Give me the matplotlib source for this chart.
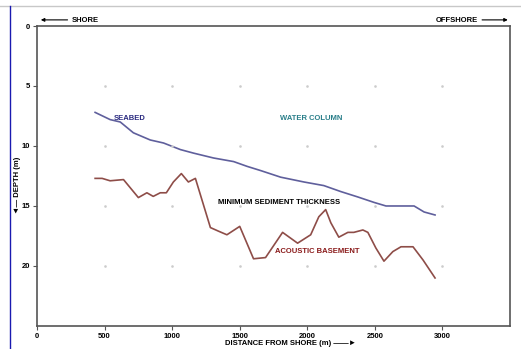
import numpy as np
import matplotlib.pyplot as plt
from matplotlib.lines import Line2D

# seabed profile (distance m, depth m)
seabed_x = [430, 541, 616, 713, 838, 936, 1061, 1160, 1306, 1455, 1555, 1655,
            1803, 1975, 2122, 2248, 2374, 2493, 2582, 2790, 2864, 2945]
seabed_d = [7.2, 7.8, 8.0, 8.9, 9.5, 9.75, 10.3, 10.6, 11.0, 11.3, 11.7, 12.05,
            12.6, 13.0, 13.3, 13.8, 14.25, 14.7, 15.0, 15.0, 15.5, 15.75]

# acoustic basement profile
base_x = [430, 482, 541, 640, 750, 813, 860, 912, 957, 1009, 1068, 1120, 1172,
          1283, 1343, 1405, 1500, 1602, 1691, 1817, 1928, 2025, 2085, 2136,
          2174, 2233, 2300, 2344, 2411, 2448, 2507, 2567, 2633, 2693, 2782,
          2856, 2945]
base_d = [12.7, 12.7, 12.9, 12.8, 14.3, 13.9, 14.2, 13.9, 13.9, 13.0, 12.3, 13.0,
          12.7, 16.8, 17.1, 17.4, 16.7, 19.4, 19.3, 17.2, 18.1, 17.4, 15.9, 15.3,
          16.4, 17.6, 17.2, 17.2, 17.0, 17.2, 18.5, 19.6, 18.8, 18.4, 18.4,
          19.5, 21.0]

xticks = [0, 500, 1000, 1500, 2000, 2500, 3000]
yticks = [0, 5, 10, 15, 20]

plt.rcParams['font.family'] = ['Liberation Sans', 'DejaVu Sans']

fig = plt.figure(figsize=(5.21, 3.49), dpi=100)
ax = fig.add_axes([0.071, 0.066, 0.908, 0.8595])

ax.plot(seabed_x, seabed_d, color='#5f5f9c', lw=1.2)
ax.plot(base_x, base_d, color='#8e4d48', lw=1.2)

# faint dots at grid intersections
gx, gy = np.meshgrid(xticks[1:], yticks[1:])
ax.plot(gx.ravel(), gy.ravel(), ls='none', marker='s', ms=0.8, color='#cccccc')

ax.set_xlim(0, 3500)
ax.set_ylim(25, 0)
ax.set_xticks(xticks)
ax.set_yticks(yticks)
for lbl in ax.get_xticklabels() + ax.get_yticklabels():
    lbl.set_fontweight('bold')
ax.tick_params(labelsize=5.5, length=3, width=0.8, color='#555555', pad=2)

for s in ax.spines.values():
    s.set_color('#555555')
    s.set_linewidth(1.2)

tkw = dict(fontsize=5.5, fontweight='bold', va='center', ha='center')
ax.text(683, 7.7, 'SEABED', color='#2a2a80', **tkw)
ax.text(2027, 7.7, 'WATER COLUMN', color='#2a7f8a', **tkw)
ax.text(1788, 14.75, 'MINIMUM SEDIMENT THICKNESS', color='black', **tkw)
ax.text(2077, 18.8, 'ACOUSTIC BASEMENT', color='#8a1a1a', **tkw)

# shore / offshore annotations above frame
fig.text(0.163, 0.942, 'SHORE', fontsize=5.5, fontweight='bold', va='center', ha='center')
fig.text(0.877, 0.942, 'OFFSHORE', fontsize=5.5, fontweight='bold', va='center', ha='center')
ax.annotate('', xy=(0.073, 0.943), xytext=(0.135, 0.943), xycoords='figure fraction',
            arrowprops=dict(arrowstyle='-|>', lw=0.8, color='black', mutation_scale=5))
ax.annotate('', xy=(0.980, 0.943), xytext=(0.920, 0.943), xycoords='figure fraction',
            arrowprops=dict(arrowstyle='-|>', lw=0.8, color='black', mutation_scale=5))

# axis titles placed directly on the figure
fig.text(0.557, 0.016, 'DISTANCE FROM SHORE (m) \u2014\u2014\u25ba', fontsize=5.5,
         fontweight='bold', ha='center', va='center')
fig.text(0.033, 0.47, '\u25c4\u2014 DEPTH (m)', fontsize=5.5, fontweight='bold',
         ha='center', va='center', rotation=90)

# page decorations
fig.add_artist(Line2D([0.0, 1.0], [0.983, 0.983], color='#c8c8c8', lw=1))
fig.add_artist(Line2D([0.02, 0.02], [0.0, 0.983], color='#1a1ab0', lw=1))

fig.savefig('out.png', dpi=100)
